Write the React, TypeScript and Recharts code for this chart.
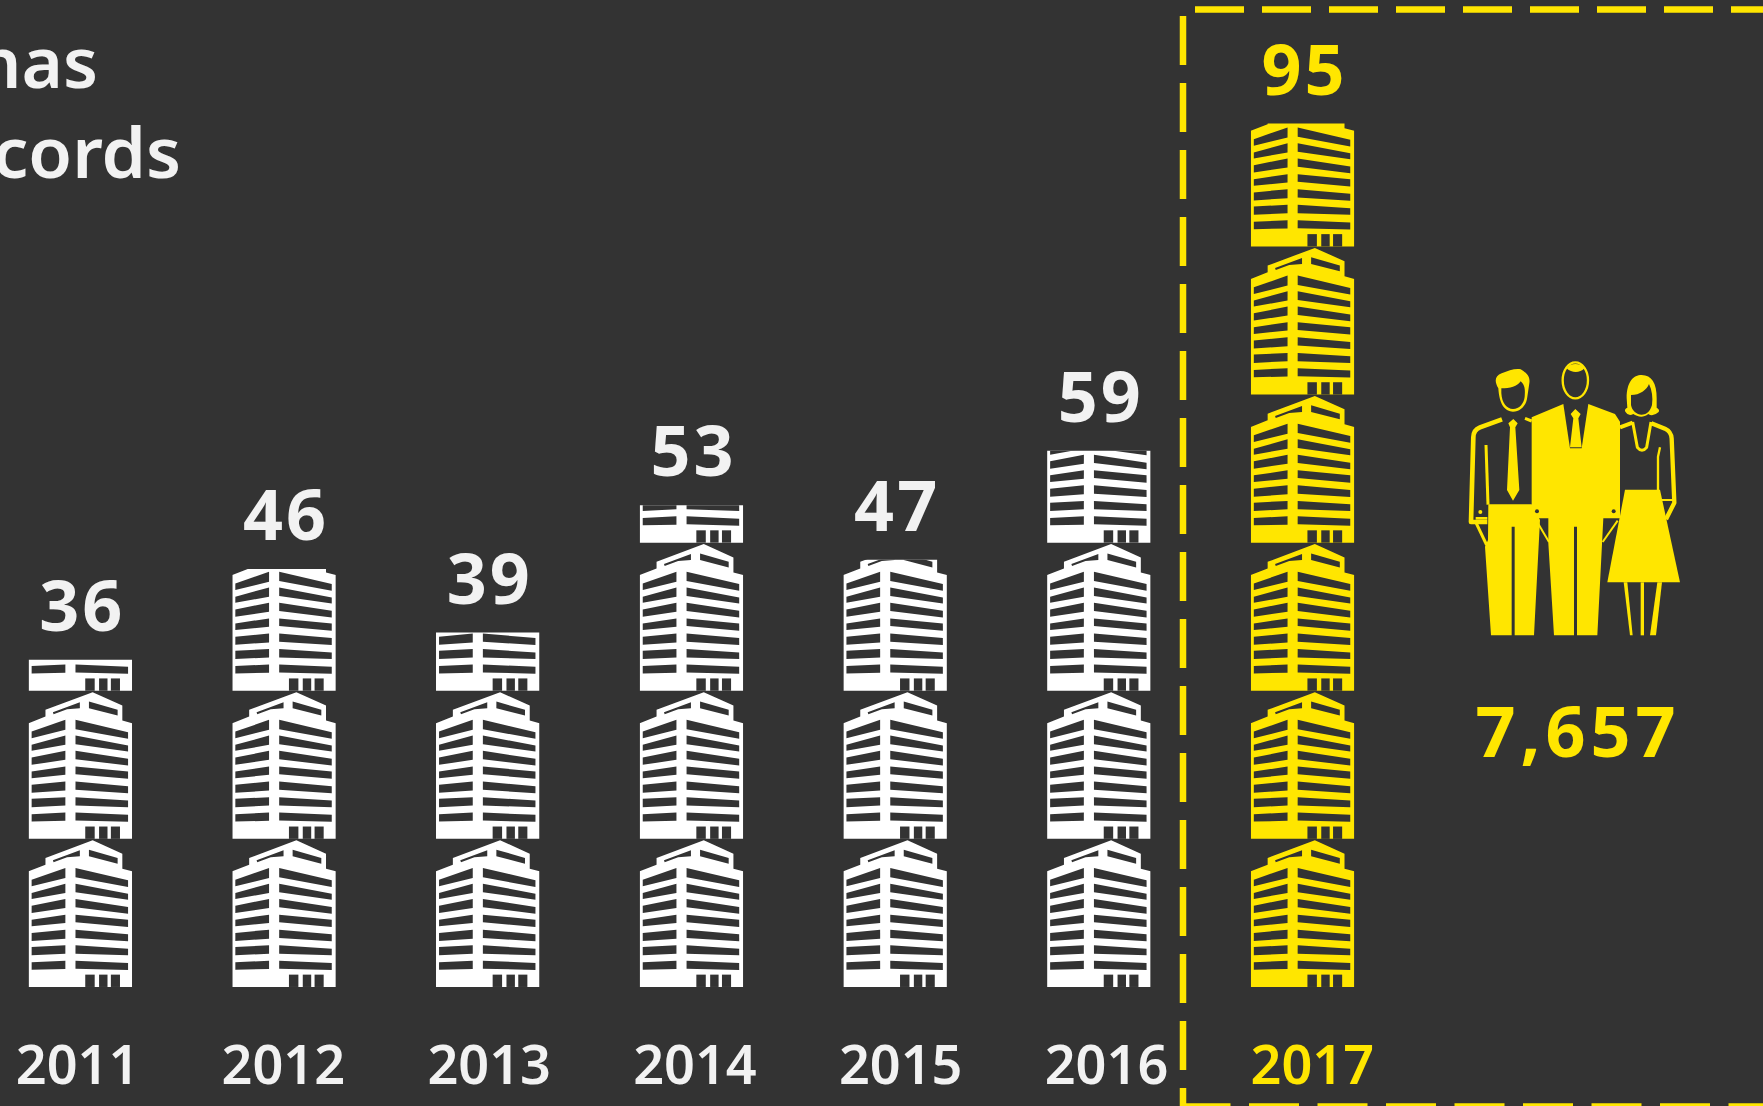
import React from "react";
import { BarChart, Bar, XAxis, YAxis, LabelList } from "recharts";

const years = [2011, 2012, 2013, 2014, 2015, 2016, 2017];
const openings = [36, 46, 39, 53, 47, 59, 95];
const highlightYear = 2017;
const titleLines = ["has", "records"];
const peopleTotal = "7,657";

const chartData = years.map((year, i) => ({ year, value: openings[i] }));

const W = 1763;
const H = 1106;
const BG = "#333333";
const YELLOW = "#FFE600";
const WHITE = "#FFFFFF";
const TEXT = "#F2F2F2";
const FONT = "'Noto Sans', sans-serif";
const TILE = 148.1;

const leftWindows = [
  "9,118 109,83 109,113 9,138",
  "9,158 109,130 109,158 9,176",
  "9,196 109,176 109,203 9,218",
  "9,238 109,223 109,248 9,258",
  "9,278 109,268 109,295 9,302",
  "9,320 109,315 109,340 9,345",
  "9,366 109,361 109,386 9,388",
];
const rightWindows = [
  "139,83 295,120 295,140 139,111",
  "139,130 295,160 295,178 139,156",
  "139,176 295,200 295,220 139,201",
  "139,223 295,238 295,260 139,246",
  "139,268 295,282 295,303 139,293",
  "139,315 295,325 295,345 139,340",
  "139,361 295,368 295,389 139,385",
];
const roofWindows = [
  "179,28 264,53 264,70 179,48",
  "72,60 152,30 152,48 114,51 74,66",
];
const doors = [
  [168, 28],
  [209, 25],
  [244, 27],
];

function BuildingIcon({ x, y, fill, scale }: { x: number; y: number; fill: string; scale: number }) {
  return (
    <g transform={`translate(${x},${y}) scale(${scale},${1 / 3})`}>
      <polygon
        fill={fill}
        points="0,440 0,93 50,73 50,53 190,0 278,40 278,85 307,93 307,440"
      />
      {[...leftWindows, ...rightWindows, ...roofWindows].map((p) => (
        <polygon key={p} points={p} fill={BG} />
      ))}
      {doors.map(([dx, dw]) => (
        <rect key={dx} x={dx} y={403} width={dw} height={37} fill={BG} />
      ))}
    </g>
  );
}

function BuildingStack(props: any) {
  const { x, y, width, height, index, payload } = props;
  const fill = payload.year === highlightYear ? YELLOW : WHITE;
  const id = `stack-clip-${index}`;
  const count = Math.ceil(height / TILE);
  const bottom = y + height;
  return (
    <g>
      <clipPath id={id}>
        <rect x={x} y={y} width={width} height={height} />
      </clipPath>
      <g clipPath={`url(#${id})`}>
        {Array.from({ length: count }, (_, k) => (
          <BuildingIcon
            key={k}
            x={x}
            y={bottom - (k + 1) * TILE + 1.4}
            fill={fill}
            scale={width / 307}
          />
        ))}
      </g>
    </g>
  );
}

function ValueLabel(props: any) {
  const { x, y, width, value, index } = props;
  const isHighlight = years[index] === highlightYear;
  return (
    <text
      x={x + width / 2 + 2}
      y={y - 29}
      textAnchor="middle"
      fontFamily={FONT}
      fontWeight={700}
      fontSize={70}
      letterSpacing={3}
      fill={isHighlight ? YELLOW : TEXT}
    >
      {value}
    </text>
  );
}

function YearTick(props: any) {
  const { x, y, payload } = props;
  return (
    <text
      x={x}
      y={y + 59}
      textAnchor="middle"
      fontFamily={FONT}
      fontWeight={600}
      fontSize={54}
      fill={payload.value === highlightYear ? YELLOW : TEXT}
    >
      {payload.value}
    </text>
  );
}

function People() {
  const stroke = { fill: "none", stroke: YELLOW, strokeLinejoin: "round" as const };
  return (
    <g transform="translate(1430,340) scale(0.33333)">
      {/* left man */}
      <path
        fill={YELLOW}
        d="M205,145 C192,122 195,108 215,100 C235,92 255,85 272,88 C285,97 302,105 298,130 L292,170 C290,195 272,215 249,215 C226,215 208,195 205,145 Z"
      />
      <path
        fill={BG}
        d="M214,145 C240,145 262,140 272,124 C285,135 286,150 284,170 C282,190 268,207 249,207 C230,207 216,190 214,160 Z"
      />
      <path {...stroke} strokeWidth={14} d="M216,238 L150,262 Q130,270 130,292 L123,546 L172,546" />
      <path {...stroke} strokeWidth={9} d="M168,315 L174,494" />
      <path {...stroke} strokeWidth={8} d="M137,535 L172,535" />
      <path {...stroke} strokeWidth={9} d="M285,235 L305,243" />
      <path {...stroke} strokeWidth={9} d="M139,550 L170,615" />
      <polygon
        fill={YELLOW}
        points="250,237 263,250 256,262 268,450 249,482 231,450 240,262 235,250"
      />
      <polygon
        fill={YELLOW}
        points="175,493 305,493 330,540 312,886 254,886 254,560 245,560 245,886 183,886 165,620 174,600"
      />
      <circle cx={151} cy={516} r={6} fill={YELLOW} />
      {/* middle man */}
      <polygon
        fill={YELLOW}
        points="305,232 400,192 475,192 555,222 570,245 570,535 520,535 502,886 441,886 441,560 432,560 432,886 372,886 355,610 355,535 318,535 305,500"
      />
      <polygon fill={BG} points="400,192 475,192 455,325 420,325" />
      <polygon fill={YELLOW} points="436,207 452,222 445,235 455,322 420,322 430,235 422,222" />
      <ellipse cx={436} cy={121} rx={38} ry={54} {...stroke} strokeWidth={7} />
      <path fill={YELLOW} d="M410,85 C420,68 452,68 463,85 C450,100 425,100 410,85 Z" />
      <circle cx={321} cy={514} r={6} fill={BG} />
      <circle cx={551} cy={514} r={6} fill={BG} />
      <path {...stroke} strokeWidth={6} d="M318,540 L357,606" />
      <path {...stroke} strokeWidth={6} d="M563,542 L518,606" />
      {/* woman */}
      <path
        fill={YELLOW}
        d="M590,175 C590,125 610,105 635,105 C665,105 680,130 680,175 L680,203 Q690,208 686,216 Q668,232 655,222 C648,228 640,230 634,230 C625,230 616,226 610,222 Q595,230 586,215 Q582,207 592,203 Z"
      />
      <path
        fill={BG}
        d="M603,165 C630,165 650,150 657,132 C666,150 669,172 666,195 C660,218 645,224 635,224 C620,224 606,212 603,195 Z"
      />
      <path {...stroke} strokeWidth={12} d="M570,262 L608,248" />
      <path {...stroke} strokeWidth={9} d="M608,246 L622,322 Q636,340 650,322 L663,246" />
      <path {...stroke} strokeWidth={13} d="M664,250 L705,266 Q724,275 725,296 L733,488 L708,538" />
      <path {...stroke} strokeWidth={7} d="M690,322 L684,350 L684,450" />
      <path {...stroke} strokeWidth={6} d="M692,480 L730,480" />
      <polygon fill={YELLOW} points="585,449 690,449 750,727 532,727" />
      <polygon fill={YELLOW} points="581,727 592,727 608,886 600,886" />
      <polygon fill={YELLOW} points="632,727 642,727 642,886 632,886" />
      <polygon fill={YELLOW} points="682,727 696,727 678,886 660,886" />
    </g>
  );
}

function Frame() {
  const dash = { stroke: YELLOW, strokeWidth: 6.5, strokeDasharray: "49 18" };
  return (
    <g>
      <line x1={1195} y1={9.4} x2={W} y2={9.4} {...dash} />
      <line x1={1183} y1={16} x2={1183} y2={1106} {...dash} />
      <line x1={1180.5} y1={1106.5} x2={W} y2={1106.5} stroke={YELLOW} strokeWidth={6.5} strokeDasharray="50 18.5" />
    </g>
  );
}

function Title() {
  const common = {
    textAnchor: "end" as const,
    fontFamily: FONT,
    fontWeight: 600,
    fontSize: 71,
    fill: TEXT,
  };
  return (
    <g>
      <text x={98} y={88} {...common}>
        {titleLines[0]}
      </text>
      <text x={181} y={178} {...common}>
        {titleLines[1]}
      </text>
    </g>
  );
}

export default function App() {
  return (
    <div style={{ position: "absolute", left: 0, top: 0, width: W, height: H, background: BG, overflow: "hidden" }}>
      <BarChart width={W} height={H} data={chartData} margin={{ top: 0, right: 0, bottom: 0, left: 0 }}>
        <XAxis
          xAxisId="bars"
          dataKey="year"
          type="number"
          domain={[2010.605, 2019.26]}
          allowDataOverflow
          hide
        />
        <XAxis
          xAxisId="labels"
          dataKey="year"
          type="number"
          domain={[2010.623, 2019.19]}
          allowDataOverflow
          ticks={years}
          interval={0}
          height={119}
          axisLine={false}
          tickLine={false}
          tick={<YearTick />}
        />
        <YAxis hide domain={[0, 108.6]} allowDataOverflow />
        <Bar
          xAxisId="bars"
          dataKey="value"
          barSize={103.5}
          isAnimationActive={false}
          shape={<BuildingStack />}
        >
          <LabelList dataKey="value" content={<ValueLabel />} />
        </Bar>
        <Title />
        <Frame />
        <People />
        <text
          x={1578}
          y={757}
          textAnchor="middle"
          fontFamily={FONT}
          fontWeight={700}
          fontSize={70}
          letterSpacing={5}
          fill={YELLOW}
        >
          {peopleTotal}
        </text>
      </BarChart>
    </div>
  );
}
